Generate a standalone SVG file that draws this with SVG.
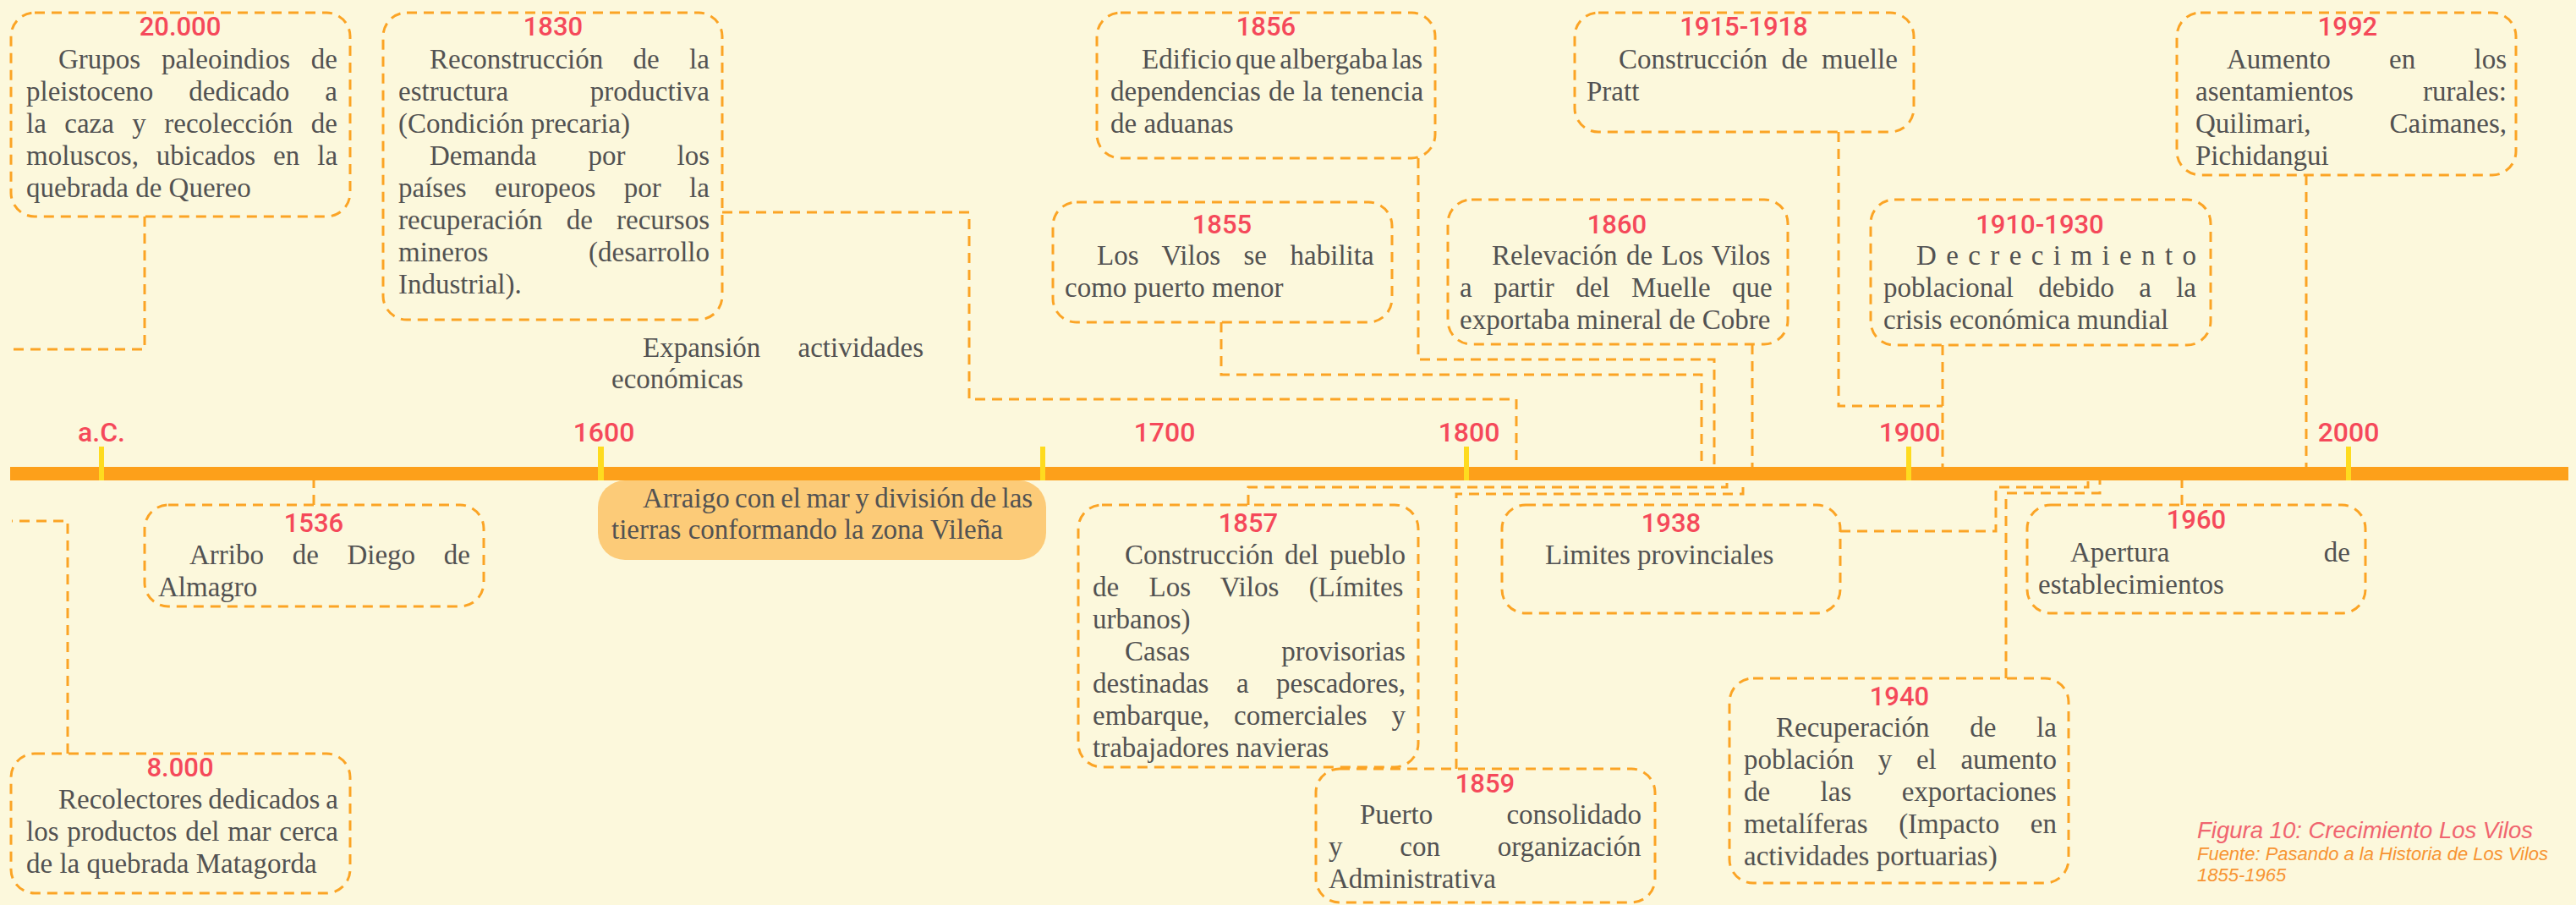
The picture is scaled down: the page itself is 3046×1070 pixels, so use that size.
<svg xmlns="http://www.w3.org/2000/svg" width="3046" height="1070" viewBox="0 0 3046 1070">
<style>
.bg{fill:#fcf8dc}
.box{fill:none;stroke:#fba425;stroke-width:3;stroke-dasharray:12 8}
.con{fill:none;stroke:#fba425;stroke-width:3;stroke-dasharray:12 8}
.date{font-family:Roboto,"Liberation Sans",sans-serif;font-size:31px;font-weight:500;fill:#f5495a;text-anchor:middle}
.yr{font-family:Roboto,"Liberation Sans",sans-serif;font-size:32px;font-weight:500;fill:#f5495a;text-anchor:middle}
.t{font-family:"Liberation Serif",serif;font-size:33px;fill:#525252}
.tick{fill:#fedb1f}
</style>
<rect class="bg" x="0" y="0" width="3046" height="1070"/>

<g id="timeline">
<rect x="12" y="552" width="3025" height="16" fill="#fda01a"/>
<rect class="tick" x="117" y="528" width="6" height="40"/>
<rect class="tick" x="707" y="528" width="7" height="40"/>
<rect class="tick" x="1230" y="528" width="6" height="40"/>
<rect class="tick" x="1731" y="528" width="6" height="40"/>
<rect class="tick" x="2254" y="528" width="6" height="40"/>
<rect class="tick" x="2774" y="528" width="6" height="40"/>
<text class="yr" x="120" y="522">a.C.</text>
<text class="yr" x="714" y="522">1600</text>
<text class="yr" x="1377" y="522">1700</text>
<text class="yr" x="1737" y="522">1800</text>
<text class="yr" x="2258" y="522">1900</text>
<text class="yr" x="2777" y="522">2000</text>
</g>

<g id="connectors">
<path class="con" d="M171,256 V413 H12"/>
<path class="con" d="M80,891 V616 H14"/>
<path class="con" d="M371,597 V568"/>
<path class="con" d="M854,251 H1146 V472 H1793 V552"/>
<path class="con" d="M1677,187 V425 H2027 V552"/>
<path class="con" d="M1444,381 V443 H2012 V552"/>
<path class="con" d="M2072,407 V552"/>
<path class="con" d="M1476,597 V576 H2042 V568"/>
<path class="con" d="M1722,909 V584 H2061 V568"/>
<path class="con" d="M2174,156 V480 H2297"/>
<path class="con" d="M2297,408 V552"/>
<path class="con" d="M2176,628 H2360 V576 H2469 V568"/>
<path class="con" d="M2372,802 V583 H2483 V568"/>
<path class="con" d="M2580,597 V568"/>
<path class="con" d="M2727,207 V552"/>
</g>

<g id="n20000">
<rect class="box" x="13" y="15" width="401" height="241" rx="28"/>
<text class="date" x="213" y="42">20.000</text>
<text class="t" x="69" y="81" word-spacing="16.5">Grupos paleoindios de</text>
<text class="t" x="31" y="119" word-spacing="33.7">pleistoceno dedicado a</text>
<text class="t" x="31" y="157" word-spacing="13.2">la caza y recolección de</text>
<text class="t" x="31" y="195" word-spacing="12.7">moluscos, ubicados en la</text>
<text class="t" x="31" y="233">quebrada de Quereo</text>
</g>

<g id="n1830">
<rect class="box" x="453" y="15" width="401" height="363" rx="28"/>
<text class="date" x="654" y="42">1830</text>
<text class="t" x="508" y="81" word-spacing="27.1">Reconstrucción de la</text>
<text class="t" x="471" y="119" word-spacing="88.5">estructura productiva</text>
<text class="t" x="471" y="157">(Condición precaria)</text>
<text class="t" x="508" y="195" word-spacing="52.8">Demanda por los</text>
<text class="t" x="471" y="233" word-spacing="25.2">países europeos por la</text>
<text class="t" x="471" y="271" word-spacing="20">recuperación de recursos</text>
<text class="t" x="471" y="309" word-spacing="110.5">mineros (desarrollo</text>
<text class="t" x="471" y="347">Industrial).</text>
</g>

<g id="expansion">
<text class="t" x="760" y="422" word-spacing="36">Expansión actividades</text>
<text class="t" x="723" y="459">económicas</text>
</g>

<g id="n1856">
<rect class="box" x="1297" y="15" width="400" height="172" rx="28"/>
<text class="date" x="1497" y="42">1856</text>
<text class="t" x="1350" y="81" word-spacing="-3.6">Edificio que albergaba las</text>
<text class="t" x="1313" y="119" word-spacing="0.9">dependencias de la tenencia</text>
<text class="t" x="1313" y="157">de aduanas</text>
</g>

<g id="n1855">
<rect class="box" x="1245" y="239" width="401" height="142" rx="28"/>
<text class="date" x="1445" y="276">1855</text>
<text class="t" x="1297" y="313" word-spacing="19.3">Los Vilos se habilita</text>
<text class="t" x="1259" y="351">como puerto menor</text>
</g>

<g id="n1860">
<rect class="box" x="1712" y="236" width="402" height="171" rx="28"/>
<text class="date" x="1912" y="276">1860</text>
<text class="t" x="1764" y="313" word-spacing="2.2">Relevación de Los Vilos</text>
<text class="t" x="1726" y="351" word-spacing="17.3">a partir del Muelle que</text>
<text class="t" x="1726" y="389">exportaba mineral de Cobre</text>
</g>

<g id="n1915">
<rect class="box" x="1862" y="15" width="401" height="141" rx="28"/>
<text class="date" x="2062" y="42">1915-1918</text>
<text class="t" x="1914" y="81" word-spacing="8.2">Construcción de muelle</text>
<text class="t" x="1876" y="119">Pratt</text>
</g>

<g id="n1910">
<rect class="box" x="2212" y="236" width="402" height="172" rx="28"/>
<text class="date" x="2412" y="276">1910-1930</text>
<text class="t" x="2266" y="313" textLength="331" lengthAdjust="spacing">Decrecimiento</text>
<text class="t" x="2227" y="351" word-spacing="21">poblacional debido a la</text>
<text class="t" x="2227" y="389">crisis económica mundial</text>
</g>

<g id="n1992">
<rect class="box" x="2574" y="15" width="401" height="192" rx="28"/>
<text class="date" x="2776" y="42">1992</text>
<text class="t" x="2633" y="81" word-spacing="61">Aumento en los</text>
<text class="t" x="2596" y="119" word-spacing="73.8">asentamientos rurales:</text>
<text class="t" x="2596" y="157" word-spacing="84.8">Quilimari, Caimanes,</text>
<text class="t" x="2596" y="195">Pichidangui</text>
</g>

<g id="n1536">
<rect class="box" x="171" y="597" width="401" height="120" rx="28"/>
<text class="date" x="371" y="629">1536</text>
<text class="t" x="224" y="667" word-spacing="25.4">Arribo de Diego de</text>
<text class="t" x="187" y="705">Almagro</text>
</g>

<g id="n8000">
<rect class="box" x="13" y="891" width="401" height="165" rx="28"/>
<text class="date" x="213" y="918">8.000</text>
<text class="t" x="69" y="956" word-spacing="-1.3">Recolectores dedicados a</text>
<text class="t" x="31" y="994" word-spacing="1.5">los productos del mar cerca</text>
<text class="t" x="31" y="1032">de la quebrada Matagorda</text>
</g>

<g id="arraigo">
<rect x="707" y="568" width="530" height="94" rx="32" fill="#fccb78"/>
<text class="t" x="760" y="600" word-spacing="-1.8">Arraigo con el mar y división de las</text>
<text class="t" x="723" y="637">tierras conformando la zona Vileña</text>
</g>

<g id="n1857">
<rect class="box" x="1275" y="597" width="402" height="310" rx="28"/>
<text class="date" x="1476" y="629">1857</text>
<text class="t" x="1330" y="667" word-spacing="4.7">Construcción del pueblo</text>
<text class="t" x="1292" y="705" word-spacing="27.1">de Los Vilos (Límites</text>
<text class="t" x="1292" y="743">urbanos)</text>
<text class="t" x="1330" y="781" word-spacing="100">Casas provisorias</text>
<text class="t" x="1292" y="819" word-spacing="24.2">destinadas a pescadores,</text>
<text class="t" x="1292" y="857" word-spacing="20.5">embarque, comerciales y</text>
<text class="t" x="1292" y="895">trabajadores navieras</text>
</g>

<g id="n1859">
<rect class="box" x="1556" y="909" width="401" height="158" rx="28"/>
<text class="date" x="1756" y="937">1859</text>
<text class="t" x="1608" y="974" word-spacing="79">Puerto consolidado</text>
<text class="t" x="1571" y="1012" word-spacing="59.5">y con organización</text>
<text class="t" x="1571" y="1050">Administrativa</text>
</g>

<g id="n1938">
<rect class="box" x="1776" y="597" width="400" height="128" rx="28"/>
<text class="date" x="1976" y="629">1938</text>
<text class="t" x="1827" y="667">Limites provinciales</text>
</g>

<g id="n1940">
<rect class="box" x="2045" y="802" width="401" height="242" rx="28"/>
<text class="date" x="2246" y="834">1940</text>
<text class="t" x="2100" y="871" word-spacing="39.5">Recuperación de la</text>
<text class="t" x="2062" y="909" word-spacing="20.4">población y el aumento</text>
<text class="t" x="2062" y="947" word-spacing="51.2">de las exportaciones</text>
<text class="t" x="2062" y="985" word-spacing="28.3">metalíferas (Impacto en</text>
<text class="t" x="2062" y="1023">actividades portuarias)</text>
</g>

<g id="n1960">
<rect class="box" x="2397" y="597" width="400" height="128" rx="28"/>
<text class="date" x="2597" y="625">1960</text>
<text class="t" x="2448" y="664" word-spacing="174.3">Apertura de</text>
<text class="t" x="2410" y="702">establecimientos</text>
</g>

<g id="caption">
<text x="2598" y="991" font-family="'Liberation Sans',sans-serif" font-style="italic" font-size="28" fill="#f0656f" textLength="397" lengthAdjust="spacingAndGlyphs">Figura 10: Crecimiento Los Vilos</text>
<text x="2598" y="1017" font-family="'Liberation Sans',sans-serif" font-style="italic" font-size="22" fill="#f79433" textLength="415" lengthAdjust="spacingAndGlyphs">Fuente: Pasando a la Historia de Los Vilos</text>
<text x="2598" y="1042" font-family="'Liberation Sans',sans-serif" font-style="italic" font-size="22" fill="#f79433">1855-1965</text>
</g>
</svg>
